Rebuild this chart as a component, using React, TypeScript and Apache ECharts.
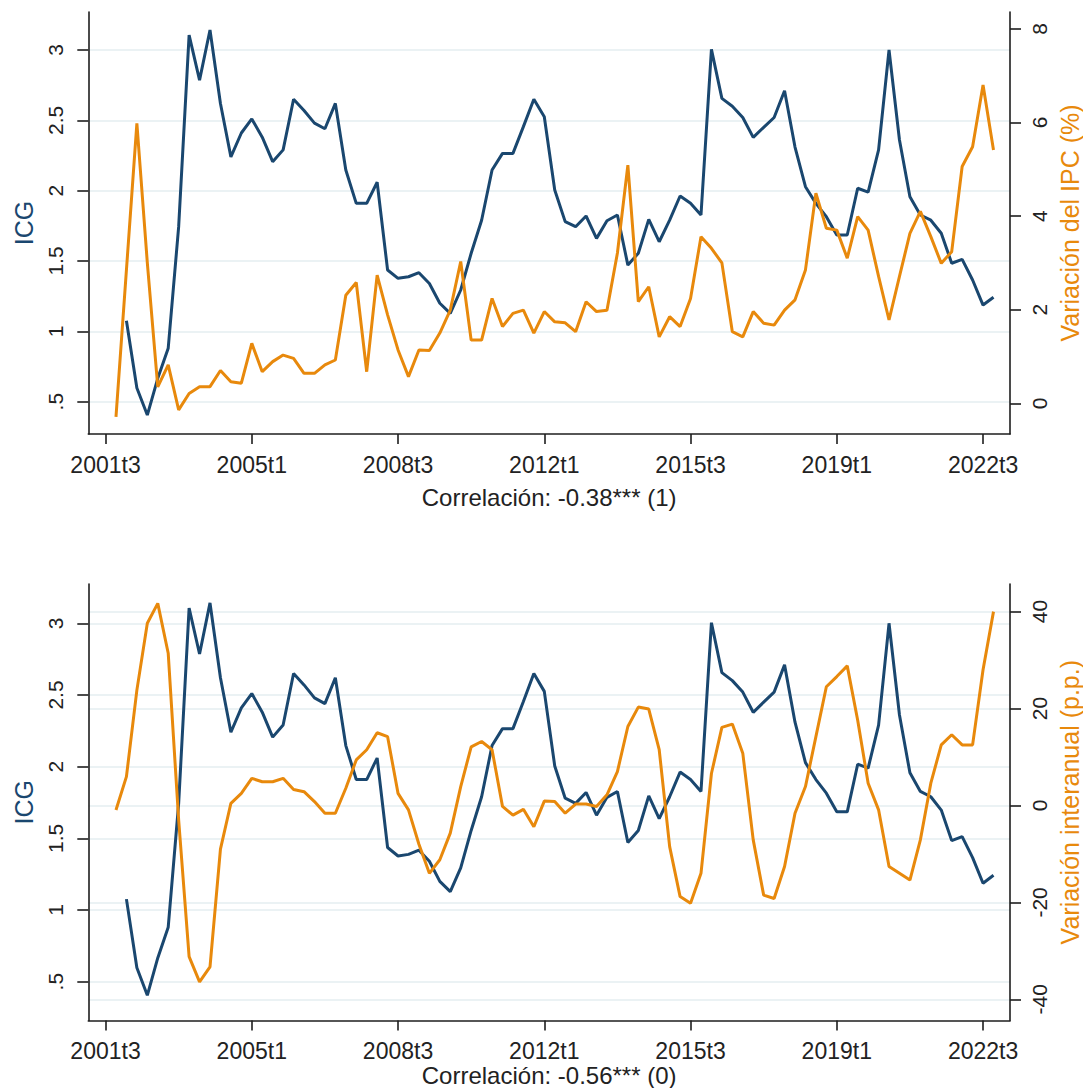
import React, { useEffect, useRef } from "react";
import * as echarts from "echarts";

// Quarter index 0 = 2001t3
const xTickIndex = [0, 14, 28, 42, 56, 70, 84];
const xTickLabels = ["2001t3", "2005t1", "2008t3", "2012t1", "2015t3", "2019t1", "2022t3"];

// ICG, starting at quarter index 2 (2002t1)
const icgStart = 2;
const icg = [
  1.076, 0.597, 0.405, 0.666, 0.88, 1.744, 3.106, 2.786, 3.142, 2.62,
  2.24, 2.41, 2.51, 2.38, 2.206, 2.29, 2.65, 2.57, 2.48, 2.44,
  2.62, 2.147, 1.91, 1.91, 2.06, 1.436, 1.377, 1.388, 1.417, 1.34,
  1.2, 1.128, 1.294, 1.555, 1.79, 2.147, 2.265, 2.265, 2.455, 2.65,
  2.525, 2.005, 1.78, 1.744, 1.82, 1.661, 1.786, 1.827, 1.471, 1.555,
  1.796, 1.637, 1.79, 1.962, 1.91, 1.827, 3.004, 2.656, 2.6, 2.52,
  2.379, 2.45, 2.52, 2.71, 2.31, 2.028, 1.91, 1.815, 1.685, 1.685,
  2.017, 1.99, 2.29, 3.0, 2.36, 1.957, 1.827, 1.79, 1.697, 1.484,
  1.512, 1.365, 1.187, 1.242,
];

// Variación del IPC (%), starting at quarter index 1 (2001t4)
const ipcStart = 1;
const ipc = [
  -0.29, 2.85, 5.98, 3.0, 0.35, 0.82, -0.14, 0.21, 0.355, 0.355,
  0.7, 0.46, 0.43, 1.28, 0.675, 0.89, 1.03, 0.96, 0.64, 0.64,
  0.82, 0.925, 2.31, 2.58, 0.675, 2.74, 1.89, 1.14, 0.57, 1.14,
  1.13, 1.5, 1.99, 3.03, 1.35, 1.35, 2.24, 1.64, 1.92, 1.99,
  1.5, 1.96, 1.74, 1.72, 1.53, 2.17, 1.96, 1.99, 3.21, 5.09,
  2.17, 2.49, 1.42, 1.85, 1.64, 2.24, 3.56, 3.31, 3.0, 1.53,
  1.42, 1.96, 1.71, 1.67, 1.99, 2.21, 2.85, 4.49, 3.74, 3.7,
  3.1, 3.99, 3.7, 2.71, 1.78, 2.71, 3.63, 4.1, 3.56, 2.99,
  3.24, 5.06, 5.48, 6.8, 5.41,
];

// Variación interanual (p.p.), starting at quarter index 1
const yoyStart = 1;
const yoy = [
  -0.93, 5.95, 23.8, 37.6, 41.7, 31.4, -3.0, -31.2, -36.4, -33.3,
  -9.0, 0.45, 2.5, 5.6, 4.9, 4.9, 5.6, 3.3, 2.85, 0.8,
  -1.6, -1.6, 3.55, 9.4, 11.5, 15.0, 14.2, 2.5, -0.9, -8.0,
  -14.0, -11.2, -5.7, 3.9, 12.1, 13.2, 11.5, -0.2, -2.0, -0.8,
  -4.4, 0.9, 0.8, -1.6, 0.3, 0.3, -0.2, 2.2, 7.0, 16.3,
  20.3, 19.9, 11.5, -8.5, -18.8, -20.2, -14.0, 6.6, 16.1, 16.8,
  10.8, -7.1, -18.5, -19.2, -12.6, -1.6, 3.9, 14.2, 24.5, 26.6,
  28.8, 17.6, 4.6, -0.9, -12.6, -14.0, -15.4, -7.1, 4.6, 12.5,
  14.6, 12.5, 12.5, 28.0, 40.0,
];

const icgTicks = [0.5, 1, 1.5, 2, 2.5, 3];
const icgTickLabels = [".5", "1", "1.5", "2", "2.5", "3"];
const ipcTicks = [0, 2, 4, 6, 8];
const yoyTicks = [-40, -20, 0, 20, 40];
const corrLabels = ["Correlación: -0.38*** (1)", "Correlación: -0.56*** (0)"];
const rightTitles = ["Variación del IPC (%)", "Variación interanual (p.p.)"];

const NAVY = "#1a476f";
const ORANGE = "#e8890c";
const GRIDC = "#e5eef1";
const AXIS = "#1e1e1e";
const FONT = "'Liberation Sans', Arial, Helvetica, sans-serif";

const toPairs = (start: number, arr: number[]) => arr.map((v, k) => [start + k, v]);

function xAxis(gridIndex: number, name: string, nameGap: number) {
  return {
    type: "value",
    gridIndex,
    min: -1.65,
    max: 86.58,
    name,
    nameLocation: "middle",
    nameGap,
    nameTextStyle: { fontSize: 24, color: "#222", fontFamily: FONT },
    axisLine: { show: true, onZero: false, lineStyle: { color: AXIS, width: 1.6 } },
    axisTick: { show: true, length: 10, customValues: xTickIndex, lineStyle: { color: AXIS, width: 1.6 } },
    axisLabel: {
      customValues: xTickIndex,
      formatter: (v: number) => {
        const k = xTickIndex.indexOf(Math.round(v));
        return k >= 0 ? xTickLabels[k] : "";
      },
      fontSize: 23,
      color: "#222",
      margin: 19,
      fontFamily: FONT,
    },
    splitLine: { show: false },
  };
}

function yAxis(
  gridIndex: number,
  position: "left" | "right",
  min: number,
  max: number,
  ticks: number[],
  labels: string[] | null,
  name: string,
  nameColor: string,
  nameGap: number,
  split: boolean
) {
  return {
    type: "value",
    gridIndex,
    position,
    min,
    max,
    name,
    nameLocation: "middle",
    nameGap,
    nameRotate: 90,
    nameTextStyle: { fontSize: 25, color: nameColor, fontFamily: FONT },
    axisLine: { show: true, onZero: false, lineStyle: { color: AXIS, width: 1.6 } },
    axisTick: { show: true, length: 11, customValues: ticks, lineStyle: { color: AXIS, width: 1.6 } },
    axisLabel: {
      customValues: ticks,
      rotate: 90,
      formatter: (v: number) => {
        if (!labels) return String(v);
        const k = ticks.findIndex((t) => Math.abs(t - v) < 1e-9);
        return k >= 0 ? labels[k] : "";
      },
      fontSize: 21,
      color: "#222",
      margin: position === "left" ? 22 : 19,
      fontFamily: FONT,
    },
    splitLine: { show: split, lineStyle: { color: GRIDC, width: 1.6 } },
  };
}

export default function App() {
  const ref = useRef<HTMLDivElement>(null);
  useEffect(() => {
    if (!ref.current) return;
    const chart = echarts.init(ref.current, undefined, { renderer: "svg" });
    chart.setOption({
      animation: false,
      backgroundColor: "#ffffff",
      textStyle: { fontFamily: FONT },
      grid: [
        { left: 88.3, right: 73, top: 12, height: 422, containLabel: false, outerBoundsMode: "none" },
        { left: 88.3, right: 73, top: 584, height: 436.4, containLabel: false, outerBoundsMode: "none" },
      ],
      xAxis: [xAxis(0, corrLabels[0], 51), xAxis(1, corrLabels[1], 42)],
      yAxis: [
        yAxis(0, "left", 0.2704, 3.27, icgTicks, icgTickLabels, "ICG", NAVY, 52, true),
        yAxis(0, "right", -0.656, 8.36, ipcTicks, null, rightTitles[0], ORANGE, 44, false),
        yAxis(1, "left", 0.23, 3.274, icgTicks, icgTickLabels, "ICG", NAVY, 52, true),
        yAxis(1, "right", -44.35, 45.7, yoyTicks, null, rightTitles[1], ORANGE, 44, true),
      ],
      series: [
        {
          type: "line", xAxisIndex: 0, yAxisIndex: 0, data: toPairs(icgStart, icg),
          symbol: "none", lineStyle: { color: NAVY, width: 3 }, itemStyle: { color: NAVY },
        },
        {
          type: "line", xAxisIndex: 0, yAxisIndex: 1, data: toPairs(ipcStart, ipc),
          symbol: "none", lineStyle: { color: ORANGE, width: 3 }, itemStyle: { color: ORANGE },
        },
        {
          type: "line", xAxisIndex: 1, yAxisIndex: 2, data: toPairs(icgStart, icg),
          symbol: "none", lineStyle: { color: NAVY, width: 3 }, itemStyle: { color: NAVY },
        },
        {
          type: "line", xAxisIndex: 1, yAxisIndex: 3, data: toPairs(yoyStart, yoy),
          symbol: "none", lineStyle: { color: ORANGE, width: 3 }, itemStyle: { color: ORANGE },
        },
      ],
    });
    return () => chart.dispose();
  }, []);
  return (
    <div
      ref={ref}
      style={{ position: "absolute", left: 0, top: 0, width: 1083, height: 1088, background: "#fff" }}
    />
  );
}
